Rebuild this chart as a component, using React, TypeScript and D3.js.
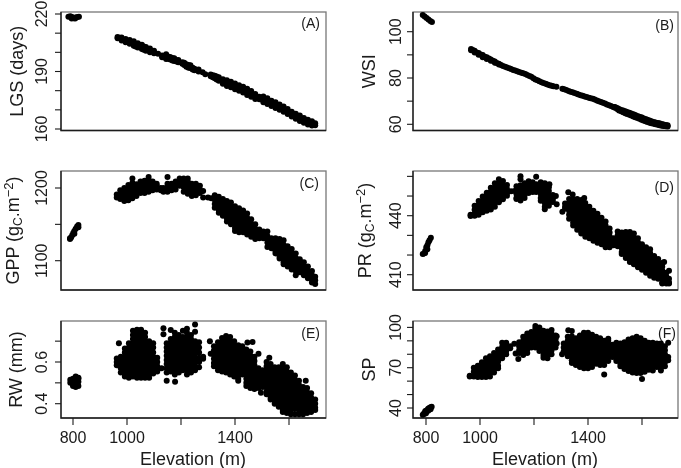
import React from "react";
import * as d3 from "d3";

// Every row: [elevation (m), value, value, ...]
type Row = number[];

const elevationTicks = [800, 1000, 1200, 1400, 1600];
const elevationLabels = [800, 1000, 1400];

const lgsRows: Row[] = [
[783,218.6],[790,218.8],[797,218.4],[803,217.8],[810,218.2],[816,218.4],[822,218.6],[795,217.7],[808,217.6],
[965,208,207.4],[973,207.6],[980,207.8,206.2],[988,206.5],[995,207,205.3],[1003,205.6],[1010,206.4,204.5],[1025,205.8,204.5,203.5],[1032,204.4,203],[1040,204.8,203.5,202.5],
[1055,204,202.5,201.8],[1062,203,201.4],[1070,202.8,201.7,200.8],[1085,202,200.8,200],[1100,200.8,199.5],[1115,199.2],[1130,198.3,197.5],
[1145,199,197,196.5],[1152,197.8,196.6],[1160,197.6,196.2],[1168,197,195.8],[1175,196.9,195.5],[1183,196,195.2],[1190,196,194.8],[1205,194.8,194],[1212,194.6,193.4],[1220,193.8,192.5],
[1228,193.4,192],[1235,193.2,191.8],[1243,192,191],[1250,191.4,190.6],[1265,191,190],[1280,189.6],[1290,188.6],[1310,188.5,187.5],[1318,188,187],[1325,187.8,186.5],
[1332,187.4,185.8],[1340,187,185.2],[1355,186,184.3,183.6],[1370,185.4,184,182.5],[1385,184.6,183,181.8],[1400,183.8,182.2,180.8],
[1415,182.8,181.2,180],[1430,182,180.5,179],[1445,181,179.3,177.8],[1460,179.8,178,176.8],[1475,178.3,176.8,175.6],
[1490,176.8,175.5],[1505,177,175,174],[1520,176,174,173],[1535,174.8,173.2,172],[1550,174,172.2,171],[1565,172.8,171,170],
[1580,171.8,170.2,169],[1595,170.5,169,167.8],[1610,169,167.6,166.5],[1625,168,166.4,165.4],[1640,167,165.2,164.2],
[1655,165.8,164.2,163.2],[1670,164.8,163.2,162.3],[1685,164,162.6,161.8],[1697,163,162],
];

const wsiRows: Row[] = [
[788,107.2],[795,106.6],[802,105.9],[809,105.3],[816,104.6],[822,104.2],
[967,92.5,92],[973,92.1],[980,91.8,91],[988,91],[995,90.8,90],[1003,90.2],[1010,89.9,89],[1018,89.2],[1025,89,88.2],[1033,88.4],[1040,88,87.4],[1048,87.5],[1055,87.1,86.6],[1062,86.5],[1070,86.2,85.8],
[1078,85.6],[1085,85.2],[1093,84.9],[1100,84.5],[1108,84.2],[1115,83.9],[1123,83.5],[1130,83.2],[1138,82.9],[1145,82.6],[1153,82.3],[1160,82],[1168,81.7],[1175,81.3],[1183,80.9],[1190,80.5],[1198,79.9],[1205,79.3],[1213,79],[1220,78.6],
[1228,78.2],[1235,77.8],[1243,77.5],[1250,77.2],[1258,76.9],[1265,76.6],[1272,76.4],[1283,76.2],[1305,75.4],[1312,75.1],[1320,74.8],[1328,74.4],[1335,74.1],[1343,73.8],[1350,73.5],[1358,73.2],[1365,72.9],[1373,72.6],[1380,72.3],
[1388,72],[1395,71.8],[1403,71.5],[1410,71.2],[1418,71],[1425,70.7],[1433,70.3],[1440,70],[1448,69.6],[1455,69.3],[1463,69],[1470,68.6],[1478,68.2],[1485,67.9],[1493,67.5],[1500,67.5,67.2],[1508,67,66.6],[1515,66.6,66],
[1523,66.2,65.6],[1530,66,65.2],[1538,65.6,64.8],[1545,65.3,64.5],[1553,65,64.1],[1560,64.7,63.8],[1568,64.3,63.4],[1575,64,63],[1583,63.6,62.7],[1590,63.3,62.4],[1598,63,62],[1605,62.6,61.6],[1613,62.3,61.3],[1620,62,61],
[1628,61.6,60.7],[1635,61.3,60.4],[1643,61,60.2],[1650,60.8,60],[1658,60.6,59.8],[1665,60.4,59.6],[1673,60.1,59.4],[1680,59.9,59.3],[1688,59.7,59.2],[1695,59.6,59.1],
];

const gppRows: Row[] = [
[789,1130,1131],[793,1132],[797,1135],[801,1138],[805,1141,1137],[810,1144],[815,1147],[820,1149,1146],
[962,1187,1191],[975,1197,1191,1185],[990,1200,1194,1188,1182],[1005,1204,1198,1192,1187,1183],[1020,1186,1191,1197,1202,1207,1213],
[1035,1189,1195,1200,1205],[1050,1193,1198,1204,1209],[1065,1193,1199,1205,1210],[1080,1195,1200,1206,1211,1215],
[1095,1197,1203,1209],[1110,1198,1203,1206],[1125,1197,1200],[1135,1195,1200],[1150,1195,1201,1206,1215],[1165,1197,1203,1206],
[1180,1198,1204,1209],[1195,1203,1208,1213],[1210,1195,1201,1207,1213],[1225,1192,1198,1204,1209,1213],[1240,1189,1195,1201,1206],
[1255,1190,1196,1202,1206],[1270,1193,1198,1203],[1282,1187,1196],[1300,1187],[1312,1186],
[1325,1190,1184,1178,1173],[1340,1188,1182,1176,1170,1166],[1355,1185,1179,1173,1167,1162],[1370,1182,1176,1170,1164,1158,1154],
[1385,1180,1174,1168,1162,1156,1150],[1400,1175,1169,1163,1157,1151,1145,1141],[1415,1172,1166,1160,1154,1148,1142,1139],
[1430,1169,1163,1157,1151,1145,1139],[1445,1165,1159,1153,1147,1141,1136],[1460,1157,1151,1145,1139,1133],[1475,1150,1144,1138,1132,1130],
[1490,1143,1137,1131],[1505,1140,1135,1131],[1520,1140,1134,1130,1125,1119],[1535,1131,1126,1120,1117],[1550,1131,1125,1119,1113,1110],
[1565,1130,1124,1118,1112,1106,1103],[1580,1128,1122,1116,1110,1104,1098,1095],[1595,1120,1114,1108,1102,1096,1092],
[1610,1116,1110,1104,1098,1092,1088],[1625,1110,1104,1098,1092,1086,1080],[1640,1102,1096,1090,1084],[1655,1098,1092,1086,1080],
[1670,1092,1086,1080,1076],[1685,1086,1080,1074,1070],[1697,1078,1073,1068],
];

const prRows: Row[] = [
[788,420.5],[793,420.8],[797,422,421],[801,424],[805,425,423],[809,426.5],[813,427.5],[818,428.8],
[965,439.8,440.5],[980,445,443,441,440],[995,447.5,445.5,443.5,441.5,440.5],[1010,449.8,447.8,445.8,443.8,441.8],
[1025,451.7,449.7,447.7,445.7,443.7,442.5],[1040,454.2,452.2,450.2,448.2,446.2,444.2,443.2],[1055,456.5,454.5,452.5,450.5,448.5,446.5,444.5],
[1070,458.5,456.5,454.5,452.5,450.5,448.5,446.8],[1085,457.6,455.6,453.6,451.6,449.6,448.4],[1100,455.6,453.6,451.6,450.2],[1115,452.4],[1128,452.5],
[1135,455,453,451,449,448.5],[1150,460,458.5,455.5,453.5,451.5,449.5,447.7],[1165,456.5,454.5,452.5,450.5,449],[1180,457.5,455.5,453.5,451.5],
[1195,457,455,453,452],[1208,459.8,456,454,452],[1225,457,455,453,451,449,447.6],[1240,456.5,454.5,452.5,450.5,448.5,446.5,444.5,443.3],
[1255,454.5,452.5,450.5,448.5,446.5,445],[1257,456],[1270,450.5,448.5,447],[1281,450],[1284,445.8],[1305,442],[1327,451.9],[1343,450.8],[1386,449],
[1315,446.2,444.5,443.5],[1330,448.5,446.5,444.5,442.5,440.5,438.5],[1345,448.5,446.5,444.5,442.5,440.5,438.5,436.5,435],
[1360,448.5,446.5,444.5,442.5,440.5,438.5,436.5,434.5,432.8],[1375,448,446,444,442,440,438,436,434,432,431],
[1390,446.5,444.5,442.5,440.5,438.5,436.5,434.5,432.5,430.5,429.3],[1405,444.5,442.5,440.5,438.5,436.5,434.5,432.5,430.5,428.5],
[1420,442.5,440.5,438.5,436.5,434.5,432.5,430.5,428.5,427.3],[1435,441,439,437,435,433,431,429,427,426.2],
[1450,439,437,435,433,431,429,427,425.5],[1465,437,435,433,431,429,427,425,424],[1480,433.5,431.5,429.5,427.5,425.5,424],[1495,428.5,426.5,425],
[1510,432,430,428,426,424.5],[1525,431.5,429.5,427.5,425.5,423.5,421.5,420.5],[1540,431.7,429.7,427.7,425.7,423.7,421.7,419.7,418.5],
[1555,431.7,429.7,427.7,425.7,423.7,421.7,419.7,417.7,416.5],[1570,431,429,427,425,423,421,419,417,415.3],
[1585,428.5,426.5,424.5,422.5,420.5,418.5,416.5,414.5,413.8],[1600,425.5,423.5,421.5,419.5,417.5,415.5,413.5,412.5],
[1615,424,422,420,418,416,414,412,411],[1630,423,421,419,417,415,413,411,409.5],[1645,419.5,417.5,415.5,413.5,411.5,409.5,408.5],
[1660,418,416,414,412,410,408],[1675,416,414,412,410,408,406,405.5],[1682,416.5],[1690,411,409,407,405.5],[1700,412,408,406,405.5],
];

const rwRows: Row[] = [
[790,0.50,0.515],[800,0.485,0.505,0.52],[810,0.48,0.50,0.515,0.53],[820,0.485,0.505,0.52,0.525],
[962,0.617,0.60,0.585],[970,0.69],[977,0.625,0.605,0.585,0.57,0.55],[992,0.665,0.645,0.625,0.605,0.585,0.565,0.545,0.53],
[1007,0.69,0.67,0.65,0.63,0.61,0.59,0.57,0.55,0.53,0.525],[1022,0.75,0.73,0.71,0.69,0.67,0.65,0.63,0.61,0.59,0.57,0.55,0.53],
[1037,0.755,0.735,0.715,0.695,0.675,0.655,0.635,0.615,0.595,0.575,0.555,0.535,0.525],[1052,0.755,0.735,0.715,0.695,0.675,0.655,0.635,0.615,0.595,0.575,0.555,0.535,0.525],
[1067,0.74,0.72,0.70,0.68,0.66,0.64,0.62,0.60,0.58,0.56,0.54,0.525],[1082,0.70,0.68,0.66,0.64,0.62,0.60,0.58,0.56,0.54,0.525],
[1097,0.69,0.67,0.645,0.625,0.605,0.585,0.565,0.545],[1112,0.62,0.60,0.58,0.555],
[1135,0.762,0.733],[1128,0.57],[1147,0.69,0.67,0.65,0.63,0.61,0.59,0.57,0.55,0.51],[1162,0.754,0.71,0.69,0.67,0.65,0.63,0.61,0.59,0.57,0.555],[1178,0.505],
[1177,0.74,0.72,0.70,0.68,0.66,0.64,0.62,0.60,0.58,0.56,0.54],[1192,0.73,0.71,0.69,0.67,0.65,0.63,0.61,0.59,0.57,0.55],
[1207,0.75,0.72,0.70,0.68,0.66,0.64,0.62,0.60,0.58,0.56],[1222,0.76,0.74,0.72,0.70,0.68,0.66,0.64,0.62,0.60,0.58,0.56,0.54],
[1237,0.73,0.71,0.69,0.67,0.65,0.63,0.61,0.59,0.57,0.55],[1252,0.78,0.745,0.70,0.68,0.66,0.64,0.62,0.60,0.58,0.56],
[1267,0.695,0.67,0.645,0.62,0.60,0.575],[1282,0.625,0.615],[1307,0.70],[1310,0.64],
[1322,0.675,0.655,0.635,0.615,0.595,0.58],[1337,0.695,0.675,0.655,0.635,0.615,0.595,0.575,0.56],[1352,0.715,0.695,0.675,0.655,0.635,0.615,0.595,0.575,0.555],
[1367,0.725,0.705,0.685,0.665,0.645,0.625,0.605,0.585,0.565,0.55],[1382,0.72,0.70,0.68,0.66,0.64,0.62,0.60,0.58,0.56,0.54],
[1397,0.70,0.68,0.66,0.64,0.62,0.60,0.58,0.56,0.54,0.53],[1412,0.68,0.66,0.64,0.62,0.60,0.58,0.56,0.54,0.52,0.51],
[1427,0.675,0.655,0.635,0.615,0.595,0.575,0.555,0.54],[1446,0.693],[1465,0.696],[1442,0.66,0.64,0.62,0.60,0.58,0.56,0.54,0.52,0.50,0.485],
[1457,0.65,0.63,0.61,0.59,0.57,0.55,0.53,0.51,0.49,0.475],[1472,0.625,0.605,0.585,0.565,0.545,0.525,0.505,0.485,0.47],
[1487,0.64,0.57,0.55,0.53,0.51,0.49,0.475],[1496,0.452],[1502,0.56,0.54,0.52,0.50,0.48],[1527,0.62],
[1517,0.60,0.58,0.56,0.54,0.52,0.50,0.48,0.46,0.445],[1532,0.59,0.57,0.55,0.53,0.51,0.49,0.47,0.45,0.43,0.42],
[1547,0.575,0.555,0.535,0.515,0.495,0.475,0.455,0.435,0.415,0.40],[1562,0.575,0.555,0.535,0.515,0.495,0.475,0.455,0.435,0.415,0.395,0.385],
[1577,0.59,0.57,0.55,0.53,0.51,0.49,0.47,0.45,0.43,0.41,0.39,0.37,0.36],[1592,0.575,0.555,0.535,0.515,0.495,0.475,0.455,0.435,0.415,0.395,0.375,0.355],
[1607,0.55,0.53,0.51,0.49,0.47,0.45,0.43,0.41,0.39,0.37,0.35],[1622,0.535,0.515,0.495,0.475,0.455,0.435,0.415,0.395,0.375,0.35],
[1637,0.51,0.49,0.47,0.45,0.43,0.41,0.39,0.37,0.35],[1652,0.48,0.46,0.44,0.42,0.40,0.38,0.36,0.35],[1662,0.51],
[1667,0.475,0.455,0.435,0.415,0.395,0.375,0.355],[1682,0.45,0.43,0.41,0.39,0.37,0.36],[1697,0.42,0.40,0.38,0.37],
];

const spRows: Row[] = [
[788,35],[793,36,35.5],[797,37.5],[800,38,36],[805,38.5],[808,39.5,38],[812,40],[817,40.5,39],[821,41],
[962,63.5,64],[977,70,67,64,63.4],[992,71.5,68.5,65.5,63],[1007,74,71,68,65,63],[1022,77,74,71,68,65,63],[1037,78.5,75.5,72.5,69.5,66.5,63.5],
[1052,81,78,75,72,69,66.5],[1067,83.5,80.5,77.5,74.5,71.5,69.5],[1082,88.5,85.5,82.5,79.5,77],[1097,88.5,85.5,82.5,80],[1112,86,84.5],[1127,87.8],
[1132,80.6],[1142,76.4],[1145,89,86,83,81],[1160,93,90,87,84,81,79.5],[1175,95.5,92.5,89.5,86.5,83.5,81],[1190,96.5,93.5,90.5,87.5,85],
[1205,101,99,96,93,90,87,85],[1220,100,97,94,91,88,85,82.5],[1235,97.5,94.5,91.5,88.5,85.5,82.5,79.5,77.5],[1250,97,94,91,88,85,82,79,77],
[1265,98,95,92,89,86,83,80],[1280,94,91,88,85],[1284,93.5,88],[1304,80],[1310,88,85,82],[1327,97.9],
[1325,93,90,87,84,81,78.5],[1340,97.4,93.5,90.5,87.5,84.5,81.5,78.5,75.5,73.5],[1355,92,89,86,83,80,77,74,72],[1370,94,91,88,85,82,79,76,73,70.5],
[1385,96,93,90,87,84,81,78,75,72,69.5],[1400,96,93,90,87,84,81,78,75,72,69.5],[1415,94.5,91.5,88.5,85.5,82.5,79.5,76.5,73.5,70.5],
[1430,93,90,87,84,81,78,75,73],[1445,92,89,86,83,80,77,74,72],[1460,90,87,84,81,78,75,72,65],[1475,91.5,90,87,84,81,78,75],[1490,87,84,81,78],
[1505,88.5,85.5,82.5,79.5,76.5,75],[1520,88,85,82,79,76,73,71],[1535,89,86,83,80,77,74,71,69],[1550,91,88,85,82,79,76,73,70,67.5],
[1565,92,89,86,83,80,77,74,71,68,66.5],[1580,93,90,87,84,81,78,75,72,69,66],[1595,92,89,86,83,80,77,74,71,68,66],[1600,61.5],
[1610,90,87,84,81,78,75,72,69,67],[1625,88.5,85.5,82.5,79.5,76.5,73.5,70.5,68.5],[1640,88.5,85.5,82.5,79.5,76.5,73.5,70.5,68],
[1655,88,85,82,79,76,73,70.5],[1670,88,85,82,79,76,73,70,68],[1685,86,83,80,77,74,71],[1697,88.5,78,75.5],
];

const lgsTicks = [160, 170, 180, 190, 200, 210, 220];
const lgsLabels = [160, 190, 220];
const wsiTicks = [60, 70, 80, 90, 100];
const wsiLabels = [60, 80, 100];
const gppTicks = [1100, 1150, 1200];
const gppLabels = [1100, 1200];
const prTicks = [410, 420, 430, 440, 450, 460];
const prLabels = [410, 440];
const rwTicks = [0.4, 0.5, 0.6, 0.7];
const rwLabels = [0.4, 0.6];
const spTicks = [40, 50, 60, 70, 80, 90, 100];
const spLabels = [40, 70, 100];

const FONT = "'Liberation Sans', Arial, sans-serif";
const INK = "#1a1a1a";

type PanelProps = {
  rows: Row[];
  tag: string;
  left: number; right: number; top: number; bottom: number;
  x800: number;
  yA: [number, number];
  yP: [number, number];
  ticks: number[];
  labels: number[];
  fmt?: (v: number) => string;
  tickBase: number;
  titleBase: number;
  title: React.ReactNode;
  tagX: number; tagY: number;
  xAxis?: boolean;
};

function Panel(p: PanelProps) {
  const x = d3.scaleLinear().domain([800, 1600]).range([p.x800, p.x800 + 216]);
  const y = d3.scaleLinear().domain(p.yA).range(p.yP);
  const fmt = p.fmt ?? ((v: number) => String(v));
  const cy = (p.top + p.bottom) / 2;
  const pts = p.rows.flatMap((r) => r.slice(1).map((v) => [r[0], v] as const));
  return (
    <g>
      <rect x={p.left} y={p.top} width={p.right - p.left} height={p.bottom - p.top} fill="#fff" stroke="#777" strokeWidth={1.3} />
      <path d={`M${p.left},${p.top}V${p.bottom}H${p.right}`} fill="none" stroke={INK} strokeWidth={1.3} />
      {pts.map(([e, v], i) => <circle key={i} cx={x(e)} cy={y(v)} r={3} fill="#000" />)}
      {p.ticks.map((t) => (
        <line key={t} x1={p.left - 6} x2={p.left} y1={y(t)} y2={y(t)} stroke={INK} strokeWidth={1.1} />
      ))}
      {p.labels.map((t) => (
        <text key={t} transform={`translate(${p.tickBase},${y(t)}) rotate(-90)`} textAnchor="middle" fontSize={16} fontFamily={FONT} fill={INK}>
          {fmt(t)}
        </text>
      ))}
      <text transform={`translate(${p.titleBase},${cy}) rotate(-90)`} textAnchor="middle" fontSize={18} fontFamily={FONT} fill={INK}>
        {p.title}
      </text>
      <text x={p.tagX} y={p.tagY} textAnchor="end" fontSize={14} fontFamily={FONT} fill={INK}>
        {p.tag}
      </text>
      {p.xAxis && (
        <g>
          {elevationTicks.map((t) => (
            <line key={t} x1={x(t)} x2={x(t)} y1={p.bottom} y2={p.bottom + 7} stroke={INK} strokeWidth={1.1} />
          ))}
          {elevationLabels.map((t) => (
            <text key={t} x={x(t)} y={443} textAnchor="middle" fontSize={16} fontFamily={FONT} fill={INK}>
              {t}
            </text>
          ))}
          <text x={(p.left + p.right) / 2 - 0.5} y={465} textAnchor="middle" fontSize={18} fontFamily={FONT} fill={INK}>
            Elevation (m)
          </text>
        </g>
      )}
    </g>
  );
}

const massTitle = (name: string) => (
  <>
    {name} (g
    <tspan dy={3} fontSize={12}>C</tspan>
    <tspan dy={-3}>.m</tspan>
    <tspan dy={-6} fontSize={13}>−2</tspan>
    <tspan dy={6}>)</tspan>
  </>
);

export default function App() {
  const L = { left: 61, right: 326, x800: 73, tickBase: 47 };
  const R = { left: 413, right: 678, x800: 426, tickBase: 401 };
  return (
    <svg width={681} height={468} style={{ position: "absolute", left: 0, top: 0, background: "#fff" }}>
      <defs>
        <filter id="soft" x="0" y="0" width="100%" height="100%">
          <feGaussianBlur stdDeviation={0.4} />
        </filter>
      </defs>
      <g filter="url(#soft)">
        <rect width={681} height={468} fill="#fff" />
        <Panel {...L} rows={lgsRows} tag="(A)" top={12} bottom={130.5} yA={[220, 160]} yP={[14, 129]} ticks={lgsTicks} labels={lgsLabels}
          titleBase={23} title="LGS (days)" tagX={320} tagY={28} />
        <Panel {...R} rows={wsiRows} tag="(B)" top={12} bottom={130.5} yA={[100, 60]} yP={[31.7, 124.3]} ticks={wsiTicks} labels={wsiLabels}
          titleBase={375} title="WSI" tagX={674} tagY={30} />
        <Panel {...L} rows={gppRows} tag="(C)" top={171} bottom={290} yA={[1200, 1100]} yP={[188, 260.7]} ticks={gppTicks} labels={gppLabels}
          titleBase={19} title={massTitle("GPP")} tagX={319} tagY={188} />
        <Panel {...R} rows={prRows} tag="(D)" top={171} bottom={290} yA={[440, 410]} yP={[215.7, 274.7]} ticks={prTicks} labels={prLabels}
          titleBase={371} title={massTitle("PR")} tagX={674} tagY={192} />
        <Panel {...L} rows={rwRows} tag="(E)" top={321} bottom={418} yA={[0.6, 0.4]} yP={[362, 403.7]} ticks={rwTicks} labels={rwLabels}
          fmt={(v) => v.toFixed(1)} titleBase={22} title="RW (mm)" tagX={320} tagY={338} xAxis />
        <Panel {...R} rows={spRows} tag="(F)" top={321} bottom={418} yA={[70, 40]} yP={[367.7, 408]} ticks={spTicks} labels={spLabels}
          titleBase={375} title="SP" tagX={676} tagY={338} xAxis />
      </g>
    </svg>
  );
}
